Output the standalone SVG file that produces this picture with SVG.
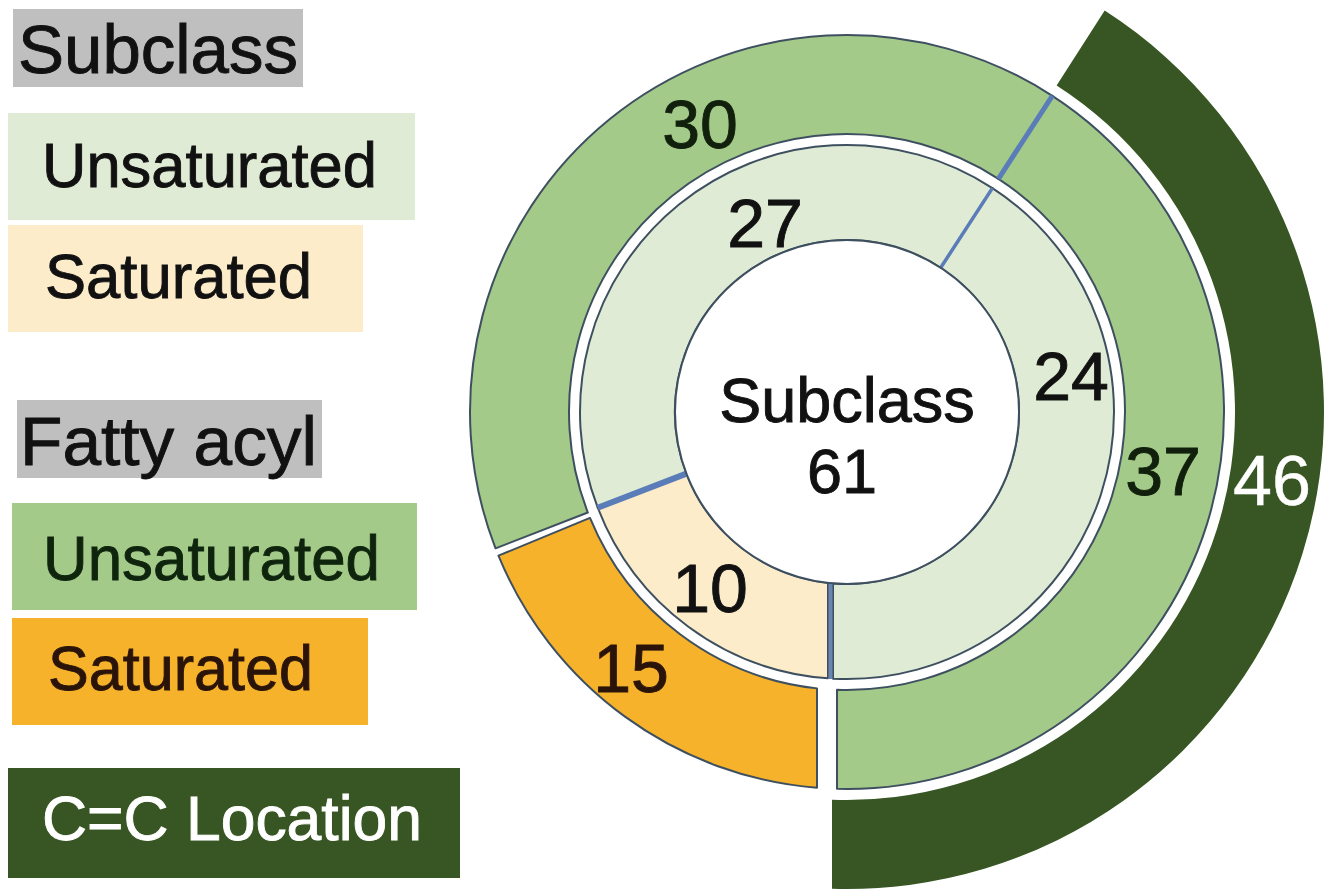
<svg xmlns="http://www.w3.org/2000/svg" width="1336" height="894" viewBox="0 0 1336 894">
  <style>
    text { font-family: "Liberation Sans", Arial, sans-serif; stroke-width: 0.9px; paint-order: stroke; }
    .hdr { font-size: 69px; fill: #111111; stroke: #111111; }
    .item { font-size: 63px; }
    .num { font-size: 68px; fill: #111111; stroke: #111111; text-anchor: middle; }
    .ctr { font-size: 63px; fill: #111111; stroke: #111111; text-anchor: middle; }
    .seg { stroke: #3e5060; stroke-width: 2; stroke-linejoin: round; }
    .div { stroke: #5a7cb8; fill: none; }
  </style>
  <rect x="0" y="0" width="1336" height="894" fill="#ffffff"/>

  <!-- Legend -->
  <g id="legend-subclass-header">
    <rect x="13" y="9" width="290" height="78" fill="#bfbfbf"/>
    <text class="hdr" x="18" y="73" textLength="280" lengthAdjust="spacingAndGlyphs">Subclass</text>
  </g>
  <g id="legend-subclass-unsaturated">
    <rect x="8" y="113" width="407" height="107" fill="#dfebd4"/>
    <text class="item" x="42" y="187" fill="#111111" stroke="#111111" textLength="335" lengthAdjust="spacingAndGlyphs">Unsaturated</text>
  </g>
  <g id="legend-subclass-saturated">
    <rect x="8" y="225" width="355" height="107" fill="#fdecc9"/>
    <text class="item" x="45" y="298" fill="#111111" stroke="#111111" textLength="267" lengthAdjust="spacingAndGlyphs">Saturated</text>
  </g>
  <g id="legend-fatty-header">
    <rect x="17" y="400" width="305" height="78" fill="#bfbfbf"/>
    <text class="hdr" x="20" y="465" textLength="297" lengthAdjust="spacingAndGlyphs">Fatty acyl</text>
  </g>
  <g id="legend-fatty-unsaturated">
    <rect x="12" y="503" width="405" height="107" fill="#a4ca8a"/>
    <text class="item" x="43" y="580" fill="#0e240c" stroke="#0e240c" textLength="337" lengthAdjust="spacingAndGlyphs">Unsaturated</text>
  </g>
  <g id="legend-fatty-saturated">
    <rect x="12" y="618" width="356" height="107" fill="#f6b22a"/>
    <text class="item" x="48" y="690" fill="#2a140a" stroke="#2a140a" textLength="265" lengthAdjust="spacingAndGlyphs">Saturated</text>
  </g>
  <g id="legend-cc-location">
    <rect x="8" y="768" width="452" height="110" fill="#375623"/>
    <text class="item" x="42" y="840" fill="#ffffff" stroke="#ffffff" stroke-width="0.5" textLength="380" lengthAdjust="spacingAndGlyphs">C=C Location</text>
  </g>

  <!-- Outer band: C=C location -->
  <g id="ring-cc-46">
    <path d="M 1104.7 10.6 A 477 477 0 0 1 832 888.76 L 832 799.71 A 388 388 0 0 0 1056.61 85.49 Z" fill="#375623"/>
    <text class="num" x="1272" y="505" style="fill:#ffffff;stroke:#ffffff;stroke-width:0.5px;font-size:70px">46</text>
  </g>

  <!-- Fatty acyl ring -->
  <g id="ring-fatty-unsat-30">
    <path class="seg" d="M 495.52 548.33 A 377 377 0 0 1 1052.33 95.82 L 998.41 178.85 A 278 278 0 0 0 587.82 512.53 Z" fill="#a4ca8a"/>
    <text class="num" x="700" y="148" style="fill:#10200c;stroke:#10200c">30</text>
  </g>
  <g id="ring-fatty-unsat-37">
    <path class="seg" d="M 1052.33 95.82 A 377 377 0 0 1 837 788.87 L 837 689.82 A 278 278 0 0 0 998.41 178.85 Z" fill="#a4ca8a"/>
    <text class="num" x="1163" y="495" style="fill:#10200c;stroke:#10200c">37</text>
  </g>
  <g id="ring-fatty-sat-15">
    <path class="seg" d="M 817 787.8 A 377 377 0 0 1 498.44 555.66 L 589.98 517.94 A 278 278 0 0 0 817 688.38 Z" fill="#f6b22a"/>
    <text class="num" x="631" y="692" style="fill:#2a140a;stroke:#2a140a">15</text>
  </g>

  <!-- Subclass ring -->
  <g id="ring-subclass-unsat-27">
    <path class="seg" d="M 597.73 507.68 A 267 267 0 0 1 992.42 188.08 L 940.68 267.75 A 172 172 0 0 0 686.42 473.64 Z" fill="#dfebd4"/>
    <text class="num" x="765" y="247">27</text>
  </g>
  <g id="ring-subclass-unsat-24">
    <path class="seg" d="M 992.42 188.08 A 267 267 0 0 1 833 678.63 L 833 583.43 A 172 172 0 0 0 940.68 267.75 Z" fill="#dfebd4"/>
    <text class="num" x="1071" y="400">24</text>
  </g>
  <g id="ring-subclass-sat-10">
    <path class="seg" d="M 828 678.32 A 267 267 0 0 1 597.73 507.68 L 686.42 473.64 A 172 172 0 0 0 828 582.95 Z" fill="#fdecc9"/>
    <text class="num" x="710" y="612">10</text>
  </g>

  <!-- Dividers -->
  <g id="dividers">
    <line class="div" x1="1052.33" y1="95.82" x2="998.41" y2="178.85" stroke-width="5"/>
    <line class="div" x1="992.42" y1="188.08" x2="940.68" y2="267.75" stroke-width="3.5"/>
    <line class="div" x1="597.73" y1="507.68" x2="686.42" y2="473.64" stroke-width="6"/>
    <line class="div" x1="830.5" y1="583" x2="830.5" y2="679" stroke-width="4" style="stroke:#6a86b0"/>
  </g>

  <!-- Center -->
  <g id="center-subclass">
    <circle cx="847" cy="412" r="172" fill="#ffffff" stroke="#3e5060" stroke-width="2"/>
    <text class="ctr" x="847" y="422">Subclass</text>
    <text class="ctr" x="842" y="493">61</text>
  </g>
</svg>
